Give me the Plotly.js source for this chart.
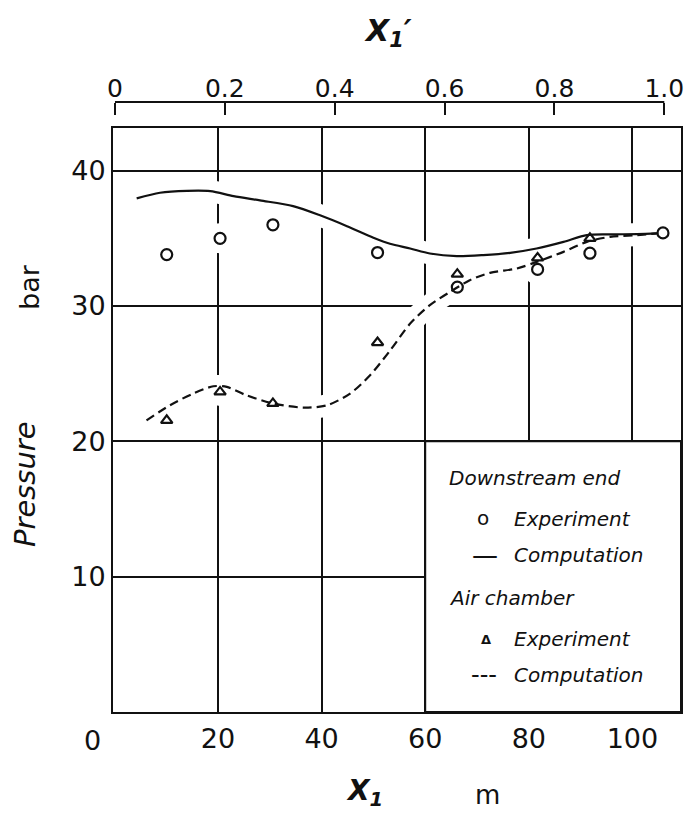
<!DOCTYPE html>
<html>
<head>
<meta charset="utf-8">
<script src="https://cdn.plot.ly/plotly-3.0.1.min.js"></script>
<style>
  html, body { margin: 0; padding: 0; background: #fff; }
  #chart { width: 684px; height: 813px; }
</style>
</head>
<body>
<div id="chart"></div>
<script>
// Pressure along the pipe: downstream end and air chamber, measured vs. computed

// Measurement stations (m) and measured pressures (bar)
const downExpX = [10.1, 20.4, 30.6, 50.8, 66.2, 81.7, 91.8, 105.9];
const downExpP = [33.8, 35.0, 36.0, 33.95, 31.4, 32.7, 33.9, 35.4];
const airExpX = [10.1, 20.4, 30.6, 50.8, 66.2, 81.7, 91.8];
const airExpP = [21.55, 23.65, 22.8, 27.3, 32.35, 33.55, 35.0];

// Computed pressure envelopes
const downCompX = [4.3, 8.8, 14.0, 18.5, 23.0, 28.1, 34.5, 39.7, 44.9, 50.0, 53.2, 57.1,
                   60.9, 66.1, 71.2, 76.4, 81.5, 86.7, 91.2, 95.7, 100.9, 105.0];
const downCompP = [37.95, 38.37, 38.51, 38.49, 38.12, 37.8, 37.38, 36.7, 35.9, 35.05, 34.6, 34.25,
                   33.88, 33.68, 33.76, 33.93, 34.25, 34.74, 35.24, 35.29, 35.31, 35.36];
const airCompX = [6.2, 10.7, 15.2, 19.1, 21.7, 25.5, 30.7, 36.5, 41.0, 45.5, 49.4, 53.2,
                  57.1, 60.9, 64.8, 68.6, 72.5, 77.7, 81.5, 86.7, 91.2, 95.7, 100.9, 104.7];
const airCompP = [21.55, 22.66, 23.53, 24.07, 24.02, 23.4, 22.79, 22.49, 22.66, 23.53, 24.9, 26.7,
                  28.7, 30.06, 31.04, 31.9, 32.45, 32.77, 33.26, 34.0, 34.74, 35.11, 35.24, 35.36];

// Axis ticks
const xTicks = [20, 40, 60, 80, 100];
const xTickText = ['20', '40', '60', '80', '100'];
const yTicks = [10, 20, 30, 40];
const yTickText = ['10', '20', '30', '40'];
const topTicks = [0, 0.2, 0.4, 0.6, 0.8, 1.0];
const topTickText = ['0', '0.2', '0.4', '0.6', '0.8', '1.0'];

// Legend texts
const groupDown = 'Downstream end';
const groupAir = 'Air chamber';
const labelExp = 'Experiment';
const labelComp = 'Computation';

const W = 684, H = 813;
const M = { l: 113, r: 3, t: 102, b: 101 };
const xRange = [-0.27, 109.38];
const yRange = [0, 43.13];
const x2Range = [-0.0036, 1.0304];

// pixel -> paper helpers for text placement
const pw = W - M.l - M.r, ph = H - M.t - M.b;
const px = v => (v - M.l) / pw;
const py = v => (H - M.b - v) / ph;

const FONT = 'DejaVu Sans';
const INK = '#111';

const halo = (x, y, extra) => Object.assign({
  x: x, y: y, type: 'scatter', hoverinfo: 'skip', showlegend: false
}, extra);

const traces = [
  // white halos break the grid where the curves and points pass
  halo(airCompX, airCompP, { mode: 'lines', line: { color: '#fff', width: 22, shape: 'spline', smoothing: 0.8 } }),
  halo(downCompX, downCompP, { mode: 'lines', line: { color: '#fff', width: 22, shape: 'spline', smoothing: 0.8 } }),
  halo(downExpX, downExpP, { mode: 'markers', marker: { symbol: 'circle', size: 30, color: '#fff' } }),
  halo(airExpX, airExpP, { mode: 'markers', marker: { symbol: 'circle', size: 28, color: '#fff' } }),
  {
    x: airCompX, y: airCompP, type: 'scatter', mode: 'lines', name: labelComp,
    line: { color: INK, width: 2.2, dash: '9px,5px', shape: 'spline', smoothing: 0.8 }
  },
  {
    x: downCompX, y: downCompP, type: 'scatter', mode: 'lines', name: labelComp,
    line: { color: INK, width: 2.2, shape: 'spline', smoothing: 0.8 }
  },
  {
    x: downExpX, y: downExpP, type: 'scatter', mode: 'markers', name: labelExp,
    marker: { symbol: 'circle-open', size: 11, color: INK, line: { width: 2.2, color: INK } }
  },
  {
    x: airExpX, y: airExpP, type: 'scatter', mode: 'markers', name: labelExp,
    marker: { symbol: 'triangle-up-open', size: 10, color: INK, line: { width: 2.2, color: INK } }
  }
];

const ann = (text, x, y, opts) => Object.assign({
  text: text, xref: 'paper', yref: 'paper', x: px(x), y: py(y),
  showarrow: false, xanchor: 'center', yanchor: 'middle',
  font: { family: FONT, size: 20, color: INK }
}, opts);

const legendFont = { family: FONT, size: 20, color: INK, style: 'italic' };

const annotations = [
  // origin label and axis titles
  ann('0', 92, 740, { font: { family: FONT, size: 27, color: INK } }),
  ann('X<sub>1</sub>′', 388, 32, { font: { family: FONT, size: 30, color: INK, weight: 'bold', style: 'italic' } }),
  ann('X<sub>1</sub>', 364, 793, { font: { family: FONT, size: 28, color: INK, weight: 'bold', style: 'italic' } }),
  ann('m', 487, 795, { font: { family: FONT, size: 26, color: INK } }),
  ann('bar', 29, 287, { textangle: -90, font: { family: FONT, size: 27, color: INK } }),
  ann('Pressure', 25, 484, { textangle: -90, font: { family: FONT, size: 29, color: INK, style: 'italic' } }),
  // legend block
  ann(groupDown, 447, 478, { xanchor: 'left', font: legendFont }),
  ann('o', 483, 518, { font: { family: FONT, size: 20, color: INK } }),
  ann(labelExp, 512, 519, { xanchor: 'left', font: legendFont }),
  ann('—', 485, 555, { font: { family: FONT, size: 26, color: INK } }),
  ann(labelComp, 512, 555, { xanchor: 'left', font: legendFont }),
  ann(groupAir, 447, 598, { xanchor: 'left', font: legendFont }),
  ann('Δ', 486, 639, { font: { family: FONT, size: 13, color: INK, weight: 'bold' } }),
  ann(labelExp, 512, 639, { xanchor: 'left', font: legendFont }),
  ann('---', 484, 675, { font: { family: FONT, size: 24, color: INK } }),
  ann(labelComp, 512, 675, { xanchor: 'left', font: legendFont })
];

const shapes = [
  // legend panel in the lower right, bounded by the 60 m and 20 bar grid lines
  {
    type: 'rect', layer: 'between', xref: 'x', yref: 'y',
    x0: 60, x1: xRange[1], y0: yRange[0], y1: 20,
    fillcolor: '#fff', line: { color: INK, width: 2 }
  },
  // baseline of the relative-length scale on top
  {
    type: 'line', xref: 'x2', yref: 'paper',
    x0: topTicks[0], x1: topTicks[topTicks.length - 1], y0: 1, y1: 1,
    line: { color: INK, width: 2 }
  }
];

const layout = {
  width: W, height: H,
  margin: M,
  paper_bgcolor: '#fff', plot_bgcolor: '#fff',
  showlegend: false,
  font: { family: FONT, color: INK },
  xaxis: {
    range: xRange, tickvals: xTicks, ticktext: xTickText,
    showgrid: true, gridcolor: INK, gridwidth: 2,
    zeroline: false, ticks: '',
    showline: true, mirror: true, linecolor: INK, linewidth: 2,
    tickfont: { family: FONT, size: 27, color: INK },
    ticklabelstandoff: 2
  },
  xaxis2: {
    overlaying: 'x', side: 'top', anchor: 'free', position: 1,
    range: x2Range, tickvals: topTicks, ticktext: topTickText,
    showgrid: false, zeroline: false, showline: false,
    ticks: 'inside', ticklen: 12, tickwidth: 2, tickcolor: INK,
    ticklabeloverflow: 'allow',
    tickfont: { family: FONT, size: 25, color: INK }
  },
  yaxis: {
    domain: [0, (H - M.b - 128.3) / ph],
    range: yRange, tickvals: yTicks, ticktext: yTickText,
    showgrid: true, gridcolor: INK, gridwidth: 2,
    zeroline: false, ticks: '',
    showline: true, mirror: true, linecolor: INK, linewidth: 2,
    tickfont: { family: FONT, size: 27, color: INK },
    ticklabelstandoff: 0
  },
  annotations: annotations,
  shapes: shapes
};

Plotly.newPlot('chart', traces, layout, { displayModeBar: false, staticPlot: true });
</script>
</body>
</html>
